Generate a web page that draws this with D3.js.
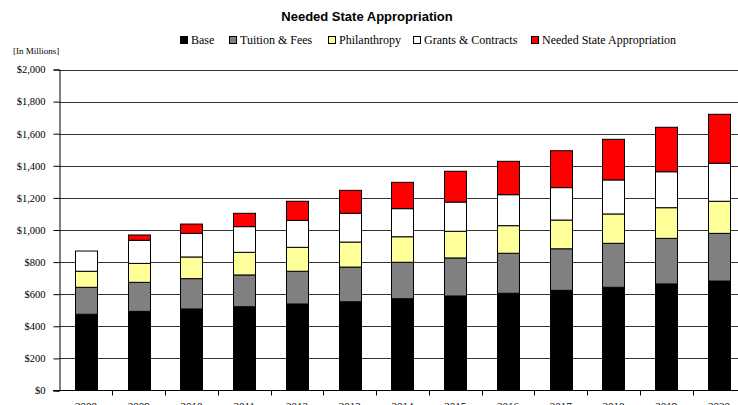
<!DOCTYPE html>
<html>
<head>
<meta charset="utf-8">
<script src="https://cdn.jsdelivr.net/npm/d3@7"></script>
<style>
  html, body { margin: 0; padding: 0; background: #fff; }
  svg { display: block; }
</style>
</head>
<body>
<svg id="chart" width="738" height="405"></svg>
<script>
// Funding sources by fiscal year, in millions of dollars
const years = [2008, 2009, 2010, 2011, 2012, 2013, 2014, 2015, 2016, 2017, 2018, 2019, 2020];
const base          = [475, 493, 508, 522, 539, 553, 572, 589, 606, 624, 643, 664, 682];
const tuitionFees   = [168, 181, 189, 198, 204, 216, 227, 237, 249, 259, 274, 284, 297];
const philanthropy  = [100, 118, 135, 141, 149, 156, 159, 166, 172, 179, 183, 191, 200];
const grants        = [126, 144, 147, 160, 168, 179, 175, 182, 193, 202, 212, 224, 237];
const neededState   = [  0,  33,  58,  83, 119, 143, 164, 192, 208, 230, 253, 277, 305];
const yTicks = [0, 200, 400, 600, 800, 1000, 1200, 1400, 1600, 1800, 2000];

const seriesNames = ["Base", "Tuition & Fees", "Philanthropy", "Grants & Contracts", "Needed State Appropriation"];
const seriesColors = ["#000000", "#808080", "#FFFF99", "#FFFFFF", "#FF0000"];
const seriesValues = [base, tuitionFees, philanthropy, grants, neededState];

const rows = years.map((yr, i) => {
  const r = { year: yr };
  seriesNames.forEach((n, k) => r[n] = seriesValues[k][i]);
  return r;
});

const svg = d3.select("#chart");
const serif = "'Liberation Serif', 'Times New Roman', serif";

const x = d3.scaleBand()
  .domain(years)
  .range([59.5, 745.5])
  .paddingInner(0.58)
  .paddingOuter(0.29);

const y = d3.scaleLinear()
  .domain([0, 2000])
  .range([390.5, 69.5]);

// Horizontal gridlines
svg.append("g")
  .selectAll("line")
  .data(yTicks.filter(t => t > 0))
  .join("line")
  .attr("x1", 59.5).attr("x2", 738)
  .attr("y1", d => Math.round(y(d)) + 0.5)
  .attr("y2", d => Math.round(y(d)) + 0.5)
  .attr("stroke", "#333")
  .attr("stroke-width", 1);

// Stacked bars
const stack = d3.stack().keys(seriesNames)(rows);
svg.append("g")
  .selectAll("g")
  .data(stack)
  .join("g")
  .attr("fill", (d, i) => seriesColors[i])
  .selectAll("rect")
  .data(d => d.filter(p => p[1] - p[0] > 0))
  .join("rect")
  .attr("x", d => Math.round(x(d.data.year)) + 0.5)
  .attr("width", Math.round(x.bandwidth()))
  .attr("y", d => y(d[1]))
  .attr("height", d => y(d[0]) - y(d[1]))
  .attr("stroke", "#000")
  .attr("stroke-width", 1);

// Y axis
const yAxis = svg.append("g")
  .attr("transform", "translate(59.5,0)")
  .call(d3.axisLeft(y).tickValues(yTicks).tickSize(6).tickPadding(8)
    .tickFormat(d => "$" + d3.format(",")(d)));
yAxis.select(".domain").attr("stroke", "#000");
yAxis.selectAll(".tick line").attr("stroke", "#000");
yAxis.selectAll("text")
  .attr("font-family", serif)
  .attr("font-size", "10.5px")
  .attr("fill", "#000");

// X axis with ticks on category boundaries
const xAxisG = svg.append("g").attr("transform", "translate(0,390.5)");
xAxisG.append("line")
  .attr("x1", 53).attr("x2", 738)
  .attr("stroke", "#000");
const step = x.step();
xAxisG.selectAll("line.bound")
  .data(years.slice(1))
  .join("line")
  .attr("class", "bound")
  .attr("x1", d => Math.round(x(d) - x.paddingInner() * step / 2) + 0.5)
  .attr("x2", d => Math.round(x(d) - x.paddingInner() * step / 2) + 0.5)
  .attr("y1", 0).attr("y2", 5)
  .attr("stroke", "#000");
xAxisG.selectAll("text")
  .data(years)
  .join("text")
  .attr("x", d => x(d) + x.bandwidth() / 2)
  .attr("y", 19)
  .attr("text-anchor", "middle")
  .attr("font-family", serif)
  .attr("font-size", "11px")
  .text(d => d);

// Title
svg.append("text")
  .attr("x", 367).attr("y", 21)
  .attr("text-anchor", "middle")
  .attr("font-family", "'Liberation Sans', Arial, sans-serif")
  .attr("font-weight", "bold")
  .attr("font-size", "13px")
  .text("Needed State Appropriation");

// Units note
svg.append("text")
  .attr("x", 13).attr("y", 54)
  .attr("font-family", serif)
  .attr("font-size", "9px")
  .text("[In Millions]");

// Legend
const legendX = [180, 229, 328, 413, 531];
const legend = svg.append("g");
seriesNames.forEach((n, i) => {
  const g = legend.append("g").attr("transform", `translate(${legendX[i]},0)`);
  g.append("rect")
    .attr("x", 0.5).attr("y", 36.5)
    .attr("width", 7).attr("height", 7)
    .attr("fill", seriesColors[i])
    .attr("stroke", "#000");
  g.append("text")
    .attr("x", 11).attr("y", 44)
    .attr("font-family", serif)
    .attr("font-size", "12px")
    .text(n);
});
</script>
</body>
</html>
